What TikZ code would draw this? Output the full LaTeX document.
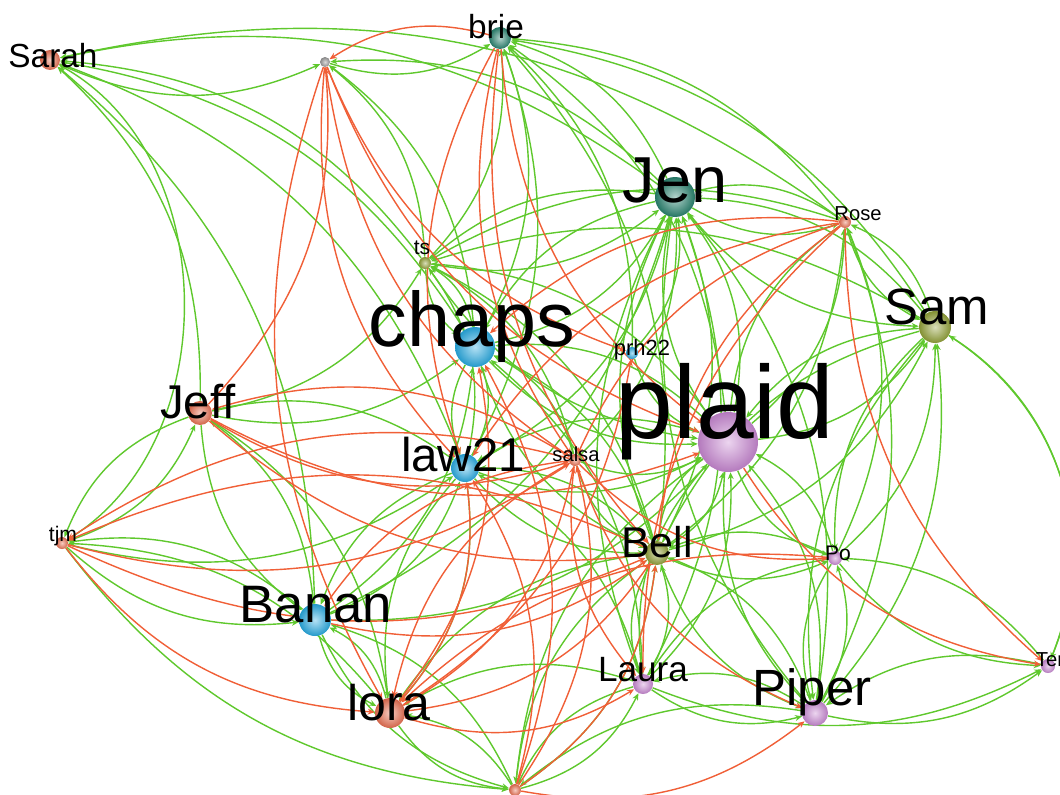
\documentclass[tikz,border=0pt]{standalone}
\usepackage{fontspec}
\setmainfont{Liberation Sans}
\usetikzlibrary{arrows.meta,shadings}
\definecolor{orN}{RGB}{232,110,80}
\definecolor{teN}{RGB}{40,130,110}
\definecolor{blN}{RGB}{40,170,225}
\definecolor{puN}{RGB}{200,135,210}
\definecolor{olN}{RGB}{145,160,55}
\definecolor{grN}{RGB}{150,150,150}
\definecolor{eG}{RGB}{95,200,45}
\definecolor{eR}{RGB}{240,95,55}
\pgfdeclarelayer{edges}
\pgfsetlayers{edges,main}
\tikzset{
  nd/.style 2 args={circle, inner sep=0pt, minimum size=#1*0.04cm, shading=radial,
    inner color=#2!35!white, outer color=#2!90!black},
  lb/.style={inner sep=0pt, text=black, font=\fontsize{#1}{#1}\selectfont},
  ge/.style={draw=eG, line width=0.8pt, -{Stealth[length=4pt,width=3.4pt]}, bend right=24},
  re/.style={draw=eR, line width=0.8pt, -{Stealth[length=4pt,width=3.4pt]}, bend right=24}
}
\begin{document}
\begin{tikzpicture}[x=0.02cm,y=-0.02cm]
\useasboundingbox (0,0) rectangle (1060,794);
% nodes (circles)
\node[nd={10}{orN}] (sarah) at (50,60) {};
\node[nd={5}{grN}] (ll) at (325,62) {};
\node[nd={11}{teN}] (brie) at (500,38) {};
\node[nd={20}{teN}] (jen) at (675,197) {};
\node[nd={6}{orN}] (rose) at (845,222) {};
\node[nd={6}{olN}] (ts) at (425,263) {};
\node[nd={16}{olN}] (sam) at (935,327) {};
\node[nd={20}{blN}] (chaps) at (475,347) {};
\node[nd={6}{blN}] (prh) at (632,353) {};
\node[nd={30}{puN}] (plaid) at (728,442) {};
\node[nd={12}{orN}] (jeff) at (200,413) {};
\node[nd={14}{blN}] (law) at (465,468) {};
\node[nd={6}{orN}] (salsa) at (575,460) {};
\node[nd={6}{orN}] (tjm) at (62,543) {};
\node[nd={12}{olN}] (bell) at (657,553) {};
\node[nd={7}{puN}] (po) at (835,558) {};
\node[nd={16}{blN}] (banan) at (315,620) {};
\node[nd={10}{puN}] (laura) at (643,684) {};
\node[nd={13}{puN}] (piper) at (815,713) {};
\node[nd={7}{puN}] (ter) at (1048,666) {};
\node[nd={15}{orN}] (lora) at (390,713) {};
\node[nd={6}{orN}] (bot) at (515,790) {};
% labels
\node[lb=19] (sarahL) at (53,56) {Sarah};
\node[lb=19] (brieL) at (496,27) {brie};
\node[lb=37] (jenL) at (675,180) {Jen};
\node[lb=11.5] (roseL) at (858,214) {Rose};
\node[lb=12] (tsL) at (422,248) {ts};
\node[lb=29] (samL) at (937,307) {Sam};
\node[lb=44] (chapsL) at (472,327) {chaps};
\node[lb=12.5] (prhL) at (642,350) {prh22};
\node[lb=59] (plaidL) at (725,412) {plaid};
\node[lb=27] (jeffL) at (198,402) {Jeff};
\node[lb=27] (lawL) at (463,455) {law21};
\node[lb=11.5] (salsaL) at (576,454) {salsa};
\node[lb=12] (tjmL) at (63,536) {tjm};
\node[lb=24.5] (bellL) at (657,542) {Bell};
\node[lb=12] (poL) at (838,553) {Po};
\node[lb=30] (bananL) at (316,605) {Banan};
\node[lb=20] (lauraL) at (643,670) {Laura};
\node[lb=29] (piperL) at (812,692) {Piper};
\node[lb=11.5] (terL) at (1050,660) {Ter};
\node[lb=28.5] (loraL) at (389,703) {lora};
\begin{pgfonlayer}{edges}
\foreach \a/\b in {ts/sarah, chaps/sarah, jen/sarah, jeff/sarah, law/sarah, banan/sarah, rose/sarah,
 ll/brie, ts/ll, jen/ll, chaps/ll, sarah/ll,
 sam/brie, jen/brie, rose/brie, chaps/brie, ts/brie, plaid/brie, bell/brie, law/brie, prh/brie,
 plaid/jen, chaps/jen, law/jen, ts/jen, bell/jen, sam/jen, rose/jen, salsa/jen, laura/jen, piper/jen, banan/jen, prh/jen,
 plaid/rose, bell/rose, po/rose, sam/rose, piper/rose, jen/rose,
 plaid/sam, jen/sam, rose/sam, piper/sam, bell/sam, po/sam,
 law/chaps, jeff/chaps, banan/chaps, ts/chaps, bell/chaps, salsa/chaps, plaid/chaps, jen/chaps, laura/chaps,
 chaps/ts, jen/ts, plaid/ts, bell/ts, law/ts, salsa/ts, rose/ts, sam/ts, jeff/ts,
 chaps/plaid, bell/plaid, jen/plaid, piper/plaid, laura/plaid, po/plaid, sam/plaid, prh/plaid, salsa/plaid, law/plaid, banan/plaid, rose/plaid, ts/plaid,
 tjm/jeff, banan/jeff, law/jeff, lora/jeff,
 banan/law, lora/law, chaps/law, bell/law, plaid/law, tjm/law, laura/law,
 banan/tjm, lora/tjm, jeff/tjm,
 plaid/bell, laura/bell, piper/bell, po/bell, law/bell, salsa/bell, chaps/bell, jen/bell, bot/bell, sam/bell,
 plaid/po, bell/po, sam/po, piper/po, ter/po,
 lora/banan, jeff/banan, tjm/banan, law/banan, bot/banan,
 bell/laura, plaid/laura, piper/laura, bot/laura, po/laura, jen/laura,
 po/piper, plaid/piper, bell/piper, laura/piper, ter/piper, sam/piper, jen/piper,
 po/ter, laura/ter, piper/ter,
 banan/lora, bot/lora, laura/lora, bell/lora, law/lora,
 lora/bot, banan/bot, laura/bot, piper/bot, tjm/bot, bell/bot, plaid/bot}
 \draw[ge] (\a) to (\b);
\draw[ge, bend right=60] (tjm) to (sarah);
\draw[ge, bend left=40] (sam) to (ter);
\draw[ge, bend right=40] (ter) to (sam);
\foreach \a/\b in {ll/lora, ll/prh, ll/plaid, ll/salsa, jeff/ll, ll/law,
 brie/law, brie/salsa, brie/bell, brie/plaid, brie/ll,
 rose/chaps, rose/law, rose/salsa, rose/bell, rose/laura, rose/ter, plaid/ter,
 salsa/tjm, bell/tjm, jeff/salsa, jeff/bell, jeff/plaid,
 lora/chaps, lora/law, lora/salsa, lora/bell, lora/prh, lora/laura,
 bot/law, bot/salsa, bot/bell, bot/piper, bot/chaps,
 salsa/laura, salsa/piper, salsa/po, salsa/lora, salsa/jeff, salsa/banan,
 tjm/lora, tjm/bell, tjm/salsa, po/lora, banan/bell}
 \draw[re] (\a) to (\b);
\end{pgfonlayer}
\end{tikzpicture}
\end{document}
